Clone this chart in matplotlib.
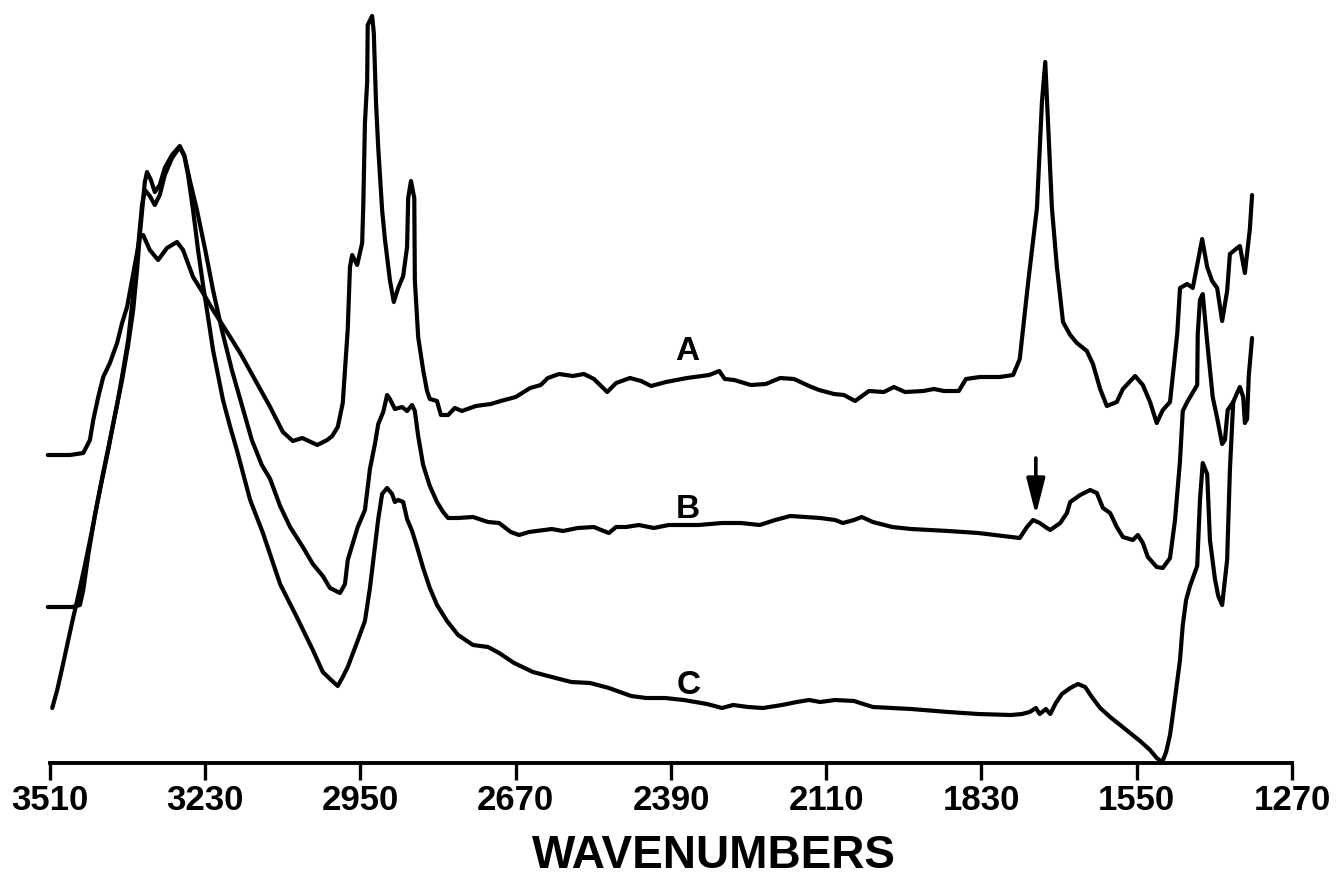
import matplotlib
matplotlib.use("Agg")
import matplotlib.pyplot as plt

# --- Spectrum A ---
a_wn = [3514, 3474, 3450, 3438, 3432, 3423, 3414, 3402, 3389, 3380,
        3371, 3362, 3353, 3348, 3342, 3330, 3315, 3299, 3281, 3270,
        3252, 3234, 3216, 3185, 3167, 3140, 3113, 3101, 3090, 3072,
        3055, 3028, 3010, 3001, 2991, 2982, 2973, 2969, 2965, 2956,
        2947, 2945, 2942, 2938, 2937, 2929, 2926, 2922, 2918, 2911,
        2906, 2897, 2890, 2882, 2873, 2866, 2864, 2859, 2853, 2852,
        2846, 2837, 2830, 2825, 2812, 2805, 2792, 2780, 2767, 2742,
        2715, 2697, 2670, 2644, 2625, 2612, 2592, 2567, 2547, 2529,
        2505, 2489, 2464, 2444, 2426, 2399, 2361, 2321, 2303, 2293,
        2276, 2246, 2219, 2193, 2168, 2141, 2123, 2096, 2078, 2058,
        2033, 2006, 1988, 1968, 1935, 1916, 1898, 1871, 1858, 1833,
        1797, 1773, 1761, 1746, 1730, 1721, 1715, 1710, 1703, 1694,
        1683, 1670, 1658, 1640, 1629, 1616, 1604, 1586, 1575, 1553,
        1539, 1526, 1514, 1503, 1490, 1477, 1472, 1459, 1449, 1432,
        1423, 1414, 1405, 1396, 1387, 1382, 1369, 1364, 1355, 1346,
        1342]
a_abs = [3.08, 3.08, 3.10, 3.23, 3.43, 3.66, 3.86, 4.00, 4.20, 4.40,
         4.56, 4.83, 5.10, 5.26, 5.28, 5.13, 5.03, 5.15, 5.21, 5.13,
         4.86, 4.70, 4.53, 4.26, 4.10, 3.83, 3.56, 3.43, 3.31, 3.22,
         3.25, 3.18, 3.23, 3.27, 3.36, 3.60, 4.34, 4.96, 5.08, 4.98,
         5.20, 5.57, 6.40, 6.81, 7.38, 7.47, 7.30, 6.60, 6.15, 5.53,
         5.24, 4.83, 4.61, 4.75, 4.87, 5.16, 5.65, 5.82, 5.65, 4.83,
         4.26, 3.93, 3.72, 3.64, 3.62, 3.48, 3.48, 3.55, 3.52, 3.57,
         3.59, 3.62, 3.66, 3.75, 3.78, 3.85, 3.89, 3.87, 3.89, 3.84,
         3.71, 3.80, 3.85, 3.82, 3.77, 3.81, 3.85, 3.88, 3.92, 3.84,
         3.83, 3.78, 3.79, 3.85, 3.84, 3.77, 3.73, 3.69, 3.68, 3.62,
         3.72, 3.71, 3.76, 3.71, 3.72, 3.74, 3.72, 3.72, 3.84, 3.86,
         3.86, 3.88, 4.04, 4.80, 5.55, 6.61, 7.01, 6.40, 5.55, 4.96,
         4.41, 4.28, 4.20, 4.12, 3.99, 3.74, 3.57, 3.61, 3.74, 3.87,
         3.78, 3.61, 3.40, 3.53, 3.61, 4.29, 4.75, 4.79, 4.75, 5.24,
         4.96, 4.82, 4.75, 4.42, 4.72, 5.09, 5.15, 5.17, 4.90, 5.34,
         5.68]

# --- Spectrum B ---
b_wn = [3514, 3470, 3456, 3450, 3441, 3429, 3416, 3402, 3389, 3378,
        3369, 3362, 3355, 3349, 3344, 3339, 3330, 3321, 3312, 3303,
        3290, 3276, 3267, 3258, 3245, 3230, 3216, 3200, 3182, 3164,
        3146, 3128, 3113, 3095, 3077, 3054, 3036, 3018, 3005, 2987,
        2978, 2973, 2955, 2942, 2933, 2924, 2918, 2909, 2902, 2897,
        2888, 2875, 2866, 2857, 2852, 2846, 2837, 2825, 2812, 2801,
        2792, 2774, 2747, 2720, 2700, 2679, 2664, 2646, 2605, 2585,
        2558, 2529, 2516, 2502, 2489, 2471, 2448, 2421, 2394, 2340,
        2298, 2264, 2230, 2202, 2175, 2148, 2121, 2094, 2080, 2060,
        2046, 2026, 1991, 1957, 1890, 1836, 1777, 1761, 1748, 1737,
        1725, 1712, 1706, 1688, 1676, 1670, 1652, 1634, 1622, 1611,
        1598, 1586, 1575, 1557, 1548, 1539, 1530, 1514, 1503, 1490,
        1481, 1472, 1467, 1459, 1441, 1440, 1436, 1431, 1423, 1413,
        1405, 1396, 1391, 1386, 1376, 1369, 1364, 1358, 1355, 1351,
        1348, 1342]
b_abs = [1.56, 1.56, 1.58, 1.73, 2.08, 2.48, 2.85, 3.23, 3.58, 3.93,
         4.23, 4.58, 4.93, 5.28, 5.58, 5.73, 5.67, 5.58, 5.68, 5.88,
         6.05, 6.16, 6.06, 5.83, 5.53, 5.13, 4.73, 4.33, 3.93, 3.58,
         3.23, 2.98, 2.84, 2.57, 2.36, 2.16, 1.99, 1.87, 1.75, 1.70,
         1.79, 2.03, 2.36, 2.53, 2.94, 3.19, 3.39, 3.51, 3.68, 3.64,
         3.54, 3.56, 3.52, 3.58, 3.52, 3.27, 2.98, 2.77, 2.61, 2.51,
         2.45, 2.45, 2.46, 2.41, 2.40, 2.31, 2.28, 2.31, 2.34, 2.32,
         2.35, 2.36, 2.33, 2.30, 2.36, 2.36, 2.38, 2.35, 2.38, 2.38,
         2.40, 2.40, 2.38, 2.43, 2.47, 2.46, 2.45, 2.43, 2.40, 2.43,
         2.46, 2.41, 2.36, 2.34, 2.32, 2.30, 2.26, 2.25, 2.36, 2.43,
         2.40, 2.35, 2.33, 2.40, 2.50, 2.61, 2.68, 2.73, 2.70, 2.55,
         2.50, 2.36, 2.26, 2.23, 2.28, 2.20, 2.06, 1.96, 1.95, 2.05,
         2.43, 3.02, 3.52, 3.61, 3.78, 4.29, 4.63, 4.69, 4.21, 3.66,
         3.45, 3.19, 3.23, 3.53, 3.61, 3.70, 3.76, 3.66, 3.40, 3.44,
         3.87, 4.25]

# --- Spectrum C ---
c_wn = [3506, 3497, 3488, 3479, 3470, 3460, 3447, 3434, 3420, 3405,
        3393, 3380, 3369, 3360, 3353, 3348, 3342, 3339, 3335, 3328,
        3321, 3312, 3303, 3290, 3276, 3268, 3261, 3252, 3243, 3234,
        3225, 3216, 3207, 3198, 3185, 3173, 3149, 3126, 3095, 3065,
        3036, 3018, 3003, 2991, 2982, 2973, 2956, 2942, 2933, 2924,
        2918, 2911, 2902, 2893, 2888, 2882, 2873, 2866, 2857, 2848,
        2837, 2825, 2812, 2794, 2774, 2747, 2720, 2700, 2673, 2639,
        2605, 2570, 2536, 2502, 2462, 2435, 2401, 2367, 2325, 2298,
        2278, 2251, 2224, 2190, 2163, 2141, 2121, 2094, 2060, 2026,
        1957, 1890, 1836, 1777, 1757, 1743, 1732, 1725, 1714, 1706,
        1696, 1685, 1670, 1656, 1643, 1631, 1616, 1598, 1580, 1562,
        1544, 1526, 1514, 1504, 1497, 1490, 1485, 1479, 1472, 1467,
        1461, 1454, 1441, 1436, 1431, 1423, 1418, 1409, 1403, 1396,
        1387, 1382, 1376]
c_abs = [0.55, 0.73, 0.95, 1.18, 1.41, 1.65, 1.98, 2.33, 2.73, 3.13,
         3.48, 3.83, 4.18, 4.53, 4.93, 5.28, 5.63, 5.81, 5.91, 5.83,
         5.71, 5.78, 5.95, 6.08, 6.17, 6.08, 5.88, 5.53, 5.13, 4.78,
         4.46, 4.13, 3.88, 3.63, 3.36, 3.13, 2.63, 2.30, 1.79, 1.46,
         1.13, 0.91, 0.83, 0.77, 0.86, 0.96, 1.21, 1.42, 1.75, 2.16,
         2.44, 2.69, 2.75, 2.69, 2.61, 2.63, 2.61, 2.44, 2.32, 2.16,
         1.95, 1.75, 1.58, 1.42, 1.28, 1.18, 1.16, 1.10, 1.00, 0.91,
         0.86, 0.81, 0.80, 0.75, 0.67, 0.65, 0.65, 0.63, 0.59, 0.55,
         0.58, 0.56, 0.55, 0.58, 0.61, 0.63, 0.61, 0.63, 0.62, 0.56,
         0.54, 0.51, 0.49, 0.48, 0.49, 0.51, 0.55, 0.49, 0.54, 0.49,
         0.60, 0.69, 0.75, 0.79, 0.76, 0.66, 0.55, 0.46, 0.38, 0.30,
         0.22, 0.13, 0.05, 0.01, 0.11, 0.28, 0.48, 0.73, 1.03, 1.38,
         1.63, 1.77, 1.97, 2.63, 3.00, 2.89, 2.23, 1.84, 1.67, 1.58,
         2.03, 2.93, 3.61]

# Trace labels and the marked band
trace_labels = ["A", "B", "C"]
label_wn = [2361, 2359, 2359]
label_abs = [4.03, 2.45, 0.69]
arrow_wn = 1732
arrow_tail_abs = 3.05
arrow_tip_abs = 2.48

tick_values = [3510, 3230, 2950, 2670, 2390, 2110, 1830, 1550, 1270]

W, H = 1337, 882
fig = plt.figure(figsize=(W / 100, H / 100), dpi=100)
ax = fig.add_axes([50 / W, 119 / H, 1242 / W, 763 / H])
ax.set_xlim(3510, 1270)
ax.set_ylim(0, 7.63)

line_kw = dict(color="black", lw=3.0, solid_joinstyle="round",
               solid_capstyle="round", clip_on=False)
for wn, ab in ((a_wn, a_abs), (b_wn, b_abs), (c_wn, c_abs)):
    ax.plot(wn, ab, **line_kw)

font = "Liberation Sans"
for lab, x, y in zip(trace_labels, label_wn, label_abs):
    ax.text(x, y, lab, ha="center", va="baseline", fontsize=24,
            fontweight="bold", family=font)

ax.annotate("", xy=(arrow_wn, arrow_tip_abs), xytext=(arrow_wn, arrow_tail_abs),
            arrowprops=dict(arrowstyle="-|>,head_length=0.55,head_width=0.14",
                            mutation_scale=40, lw=2.6, color="black",
                            shrinkA=0, shrinkB=0))

for side in ("left", "right", "top"):
    ax.spines[side].set_visible(False)
ax.spines["bottom"].set_linewidth(2.8)
ax.set_yticks([])
ax.set_xticks(tick_values)
ax.set_xticklabels([str(v) for v in tick_values], fontsize=25,
                   fontweight="bold", family=font)
ax.tick_params(axis="x", direction="out", length=12, width=2.4, pad=3)

fig.text(714 / W, 1 - 868 / H, "WAVENUMBERS", ha="center", va="baseline",
         fontsize=33, fontweight="bold", family=font)

fig.savefig("out.png", dpi=100, facecolor="white")
